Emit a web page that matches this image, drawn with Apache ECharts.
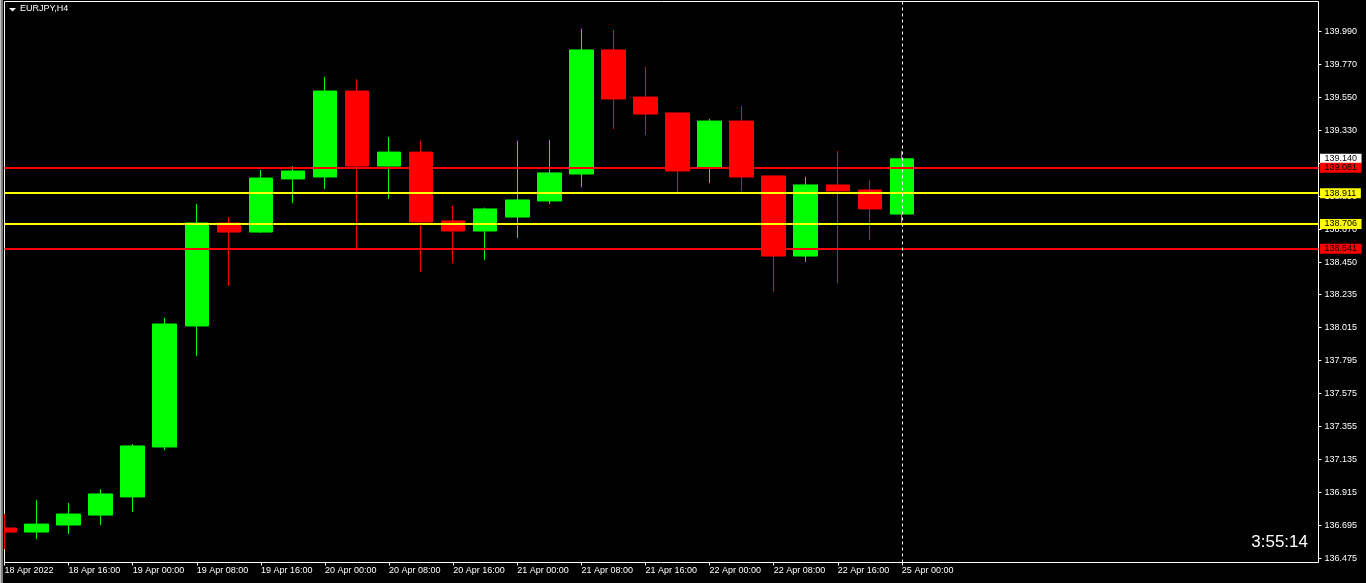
<!DOCTYPE html>
<html><head><meta charset="utf-8">
<script src="https://cdn.jsdelivr.net/npm/echarts@6/dist/echarts.min.js"></script>
<style>html,body{margin:0;padding:0;background:#000;}#c{width:1366px;height:583px;}</style>
</head><body><div id="c"></div>
<script>
const symbolName = 'EURJPY,H4';
const timerText = '3:55:14';
const candleTimes = ['18 Apr 2022','18 Apr 12:00','18 Apr 16:00','18 Apr 20:00','19 Apr 00:00','19 Apr 04:00','19 Apr 08:00','19 Apr 12:00','19 Apr 16:00','19 Apr 20:00','20 Apr 00:00','20 Apr 04:00','20 Apr 08:00','20 Apr 12:00','20 Apr 16:00','20 Apr 20:00','21 Apr 00:00','21 Apr 04:00','21 Apr 08:00','21 Apr 12:00','21 Apr 16:00','21 Apr 20:00','22 Apr 00:00','22 Apr 04:00','22 Apr 08:00','22 Apr 12:00','22 Apr 16:00','22 Apr 20:00','25 Apr 00:00'];
const emptySlots = 13;
const opens  = [136.679,136.652,136.699,136.765,136.886,137.219,138.026,138.712,138.652,139.006,139.019,139.592,139.092,139.185,138.726,138.659,138.752,138.859,139.039,139.866,139.552,139.446,139.079,139.392,139.026,138.492,138.966,138.932,138.772];
const closes = [136.652,136.705,136.772,136.906,137.226,138.039,138.712,138.652,139.012,139.059,139.592,139.092,139.185,138.719,138.659,138.806,138.866,139.046,139.866,139.539,139.439,139.059,139.392,139.019,138.492,138.966,138.926,138.806,139.140];
const highs  = [136.772,136.866,136.846,136.939,137.239,138.079,138.839,138.752,139.066,139.092,139.686,139.672,139.286,139.259,138.826,138.815,139.259,139.266,140.006,139.999,139.752,139.446,139.406,139.492,139.030,139.019,139.192,138.999,139.192];
const lows   = [136.539,136.606,136.639,136.699,136.786,137.199,137.826,138.292,138.646,138.846,138.939,138.546,138.872,138.386,138.446,138.466,138.612,138.839,138.952,139.339,139.299,138.912,138.979,138.926,138.252,138.452,138.312,138.599,138.699];
const yTickLabels = ['136.475','136.695','136.915','137.135','137.355','137.575','137.795','138.015','138.235','138.450','138.670','138.890','139.110','139.330','139.550','139.770','139.990'];
const resistanceLevels = [139.081, 138.541];
const supportLevels = [138.911, 138.706];
const currentPrice = 139.140;
const separatorIndex = 28;
const yMin = 136.449, yMax = 140.189;

const FONT = 'Liberation Sans, Arial, sans-serif';
const categories = candleTimes.concat(Array.from({length: emptySlots}, (_, i) => '_' + i));
const showIdx = (i) => i % 2 === 0 && i < candleTimes.length;

const lblBase = {show: true, position: 'end', distance: 1.5, color: '#000', fontSize: 9, fontFamily: FONT,
  lineHeight: 9, padding: [1, 4.5, 0, 4.5], formatter: p => Number(p.value).toFixed(3)};

const markData = [
  {yAxis: currentPrice, lineStyle: {color: 'rgba(0,0,0,0)', width: 0}, label: Object.assign({}, lblBase, {backgroundColor: '#ffffff'})}
];
resistanceLevels.forEach(v => markData.push({yAxis: v, lineStyle: {color: '#ff0000', width: 2, type: 'solid'}, label: Object.assign({}, lblBase, {backgroundColor: '#ff0000'})}));
supportLevels.forEach(v => markData.push({yAxis: v, lineStyle: {color: '#ffff00', width: 2, type: 'solid'}, label: Object.assign({}, lblBase, {backgroundColor: '#ffff00'})}));
markData.push({xAxis: separatorIndex, lineStyle: {color: '#ffffff', width: 1, type: [3, 3]}, label: {show: false}});

const chart = echarts.init(document.getElementById('c'), null, {renderer: 'canvas'});
chart.setOption({
  backgroundColor: '#000000',
  animation: false,
  textStyle: {fontFamily: FONT},
  grid: {left: 4.5, top: 1.5, right: 47.5, bottom: 20.5, show: true, borderColor: '#ffffff', borderWidth: 1, backgroundColor: 'transparent'},
  xAxis: {
    type: 'category', data: categories, boundaryGap: false,
    axisLine: {show: false},
    axisTick: {show: true, inside: false, length: 3, interval: (i) => showIdx(i), lineStyle: {color: '#ffffff'}},
    axisLabel: {show: true, interval: (i) => showIdx(i), align: 'left', margin: 4, color: '#ffffff', fontSize: 9, fontFamily: FONT, formatter: v => v},
    splitLine: {show: false}
  },
  yAxis: {
    type: 'value', position: 'right', min: yMin, max: yMax, scale: true,
    axisLine: {show: false},
    axisTick: {show: true, inside: false, length: 3, customValues: yTickLabels.map(Number), lineStyle: {color: '#ffffff'}},
    axisLabel: {show: true, margin: 6, color: '#ffffff', fontSize: 9, fontFamily: FONT, customValues: yTickLabels.map(Number),
      formatter: (v) => { const m = yTickLabels.find(s => Math.abs(Number(s) - v) < 1e-6); return m || ''; }},
    splitLine: {show: false}
  },
  series: [{
    type: 'candlestick',
    data: opens.map((o, i) => [o, closes[i], lows[i], highs[i]]),
    barWidth: 24,
    clip: true,
    itemStyle: {color: '#00ff00', color0: '#ff0000', borderColor: '#00ff00', borderColor0: '#ff0000', borderWidth: 1},
    markLine: {symbol: ['none', 'none'], silent: true, animation: false, precision: 3, data: markData}
  }],
  graphic: [
    {type: 'rect', z: 100, left: 0, top: 0, shape: {width: 4, height: 583}, style: {fill: '#000000'}},
    {type: 'rect', z: 101, left: 0, top: 0, shape: {width: 1, height: 583}, style: {fill: '#c0c0c0'}},
    {type: 'rect', z: 101, left: 1, top: 0, shape: {width: 2, height: 583}, style: {fill: '#808080'}},
    {type: 'polygon', z: 101, shape: {points: [[9, 8], [16, 8], [12.5, 11.5]]}, style: {fill: '#ffffff'}},
    {type: 'text', z: 101, left: 20, top: 4, style: {text: symbolName, fill: '#ffffff', font: '9px ' + FONT}},
    {type: 'text', z: 101, right: 58, top: 534, style: {text: timerText, fill: '#ffffff', font: '17px ' + FONT}}
  ]
});
</script></body></html>
